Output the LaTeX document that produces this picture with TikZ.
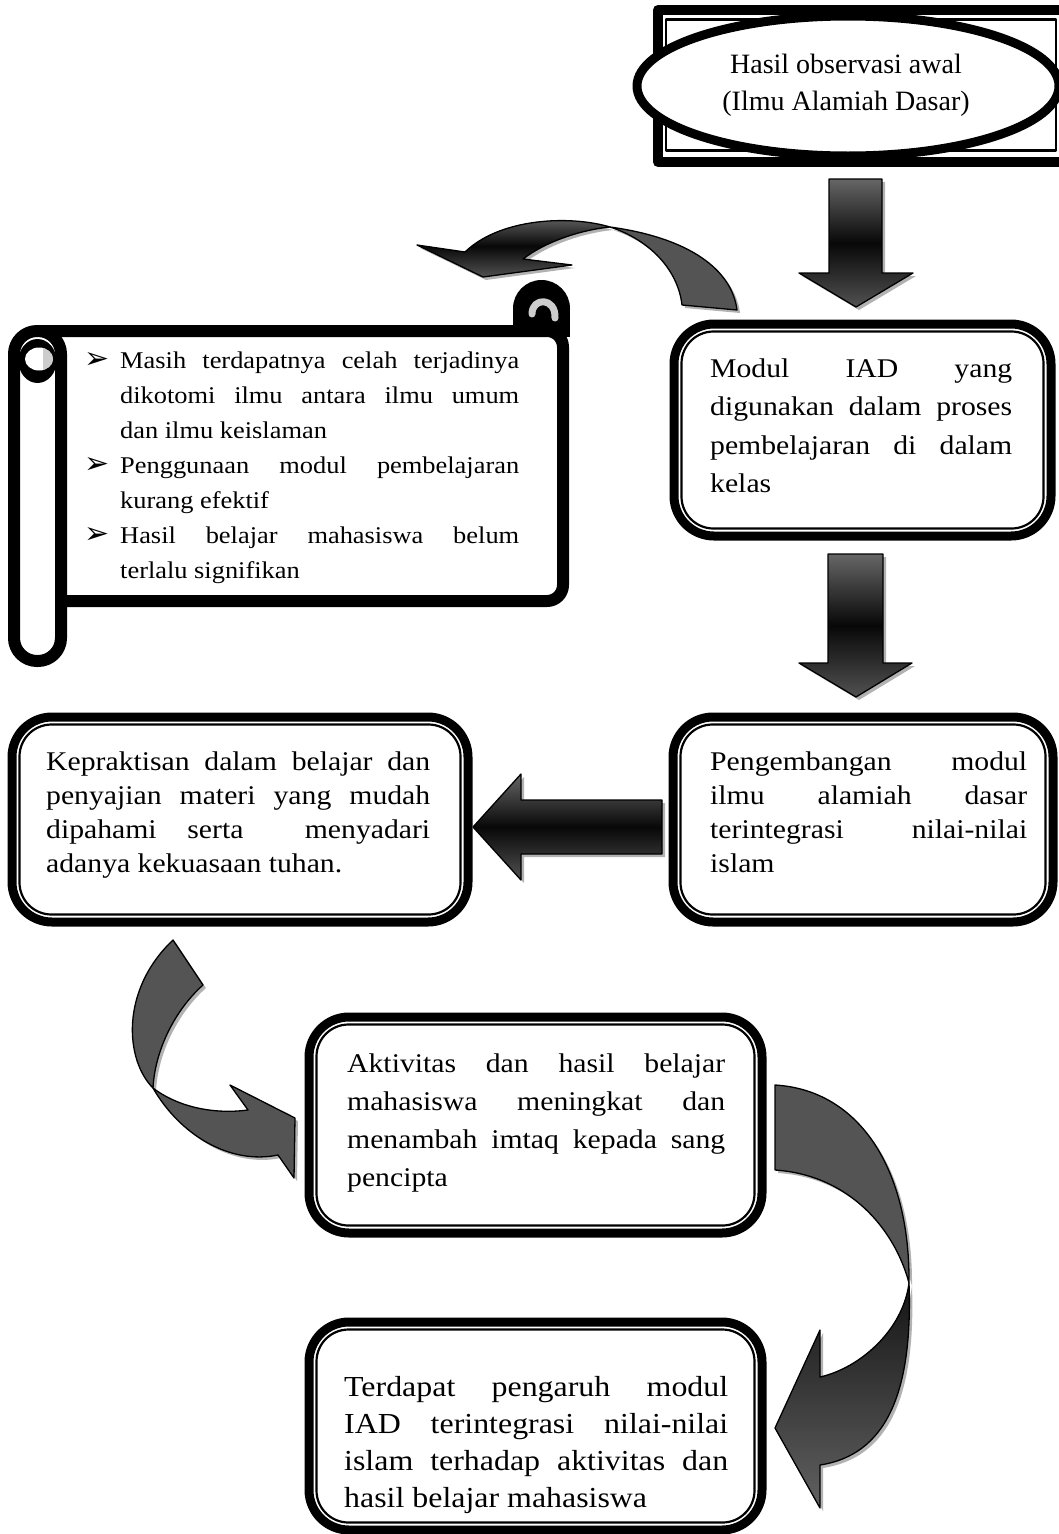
\documentclass[tikz,border=0pt]{standalone}
\usepackage{fontspec}
\setmainfont{Liberation Serif}
\newfontfamily\boxfont{Liberation Serif}[FakeStretch=1.1]
\newfontfamily\symfont{DejaVu Sans}
\usetikzlibrary{shadows}

% text block: width, line spacing, rows
\newcommand\tb[3]{\vtop{\hsize=#1pt\baselineskip=#2pt\relax\parindent=0pt #3}}
\newcommand\jr[1]{\hbox to\hsize{#1}}
\newcommand\lr[1]{\hbox to\hsize{#1\hfil}}
\newcommand\ctr[1]{\hbox to\hsize{\hfil#1\hfil}}

\tikzset{
  frameout/.style={line width=9pt, rounded corners=40pt, fill=white},
  framein/.style={line width=2.2pt, rounded corners=32pt},
  blk/.style={draw=black, line width=1.3pt,
    drop shadow={shadow xshift=3pt, shadow yshift=-3pt, fill=black!30, opacity=1}},
  bandflat/.style={blk, fill=black!67},
  bandshade/.style={blk, top color=black!60, bottom color=black!68, middle color=black!97},
  bandfade/.style={blk, top color=black!92, bottom color=black!62},
  txt/.style={inner sep=0pt, anchor=base west, font=\boxfont\fontsize{27}{38}\selectfont},
  bullet/.style={inner sep=0pt, anchor=base west, font=\symfont\fontsize{30}{30}\selectfont},
}

\begin{document}
\begin{tikzpicture}[x=1pt, y=-1pt, line join=round]
\useasboundingbox (0,0) rectangle (1059,1534);

% ---------- start: observation frame with ellipse ----------
\draw[line width=10pt] (658,10) rectangle (1064,162);
\draw[line width=2.5pt] (666,19.5) rectangle (1056,150.5);
\draw[line width=9pt, fill=white] (848,86) ellipse [x radius=211, y radius=70];
\node[inner sep=0pt, anchor=base, font=\fontsize{28}{37}\selectfont] (t1) at (846,73)
  {\tb{300}{37}{\ctr{Hasil observasi awal}\ctr{(Ilmu Alamiah Dasar)}}};

% ---------- double-framed boxes ----------
\draw[frameout] (674,324) rectangle (1051,536);
\draw[framein] (681.5,331.5) rectangle (1043.5,528.5);
\draw[frameout] (673,717) rectangle (1053,922);
\draw[framein] (680.5,724.5) rectangle (1045.5,914.5);
\draw[frameout] (12,717) rectangle (468,922);
\draw[framein] (19.5,724.5) rectangle (460.5,914.5);
\draw[frameout] (309,1017) rectangle (762,1233);
\draw[framein] (316.5,1024.5) rectangle (754.5,1225.5);
\draw[frameout] (309,1322) rectangle (762,1530);
\draw[framein] (316.5,1329.5) rectangle (754.5,1522.5);

\node[txt] (t2) at (710,377) {\tb{302}{38.5}{%
  \jr{Modul IAD yang}\jr{digunakan dalam proses}\jr{pembelajaran di dalam}\lr{kelas}}};
\node[txt] (t3) at (710,770) {\tb{317}{34}{%
  \jr{Pengembangan modul}\jr{ilmu alamiah dasar}\jr{terintegrasi nilai-nilai}\lr{islam}}};
\node[txt] (t4) at (46,770) {\tb{384}{34}{%
  \jr{Kepraktisan dalam belajar dan}\jr{penyajian materi yang mudah}%
  \jr{dipahami serta~ menyadari}\lr{adanya kekuasaan tuhan.}}};
\node[txt] (t5) at (347,1072) {\tb{378}{38}{%
  \jr{Aktivitas dan hasil belajar}\jr{mahasiswa meningkat dan}%
  \jr{menambah imtaq kepada sang}\lr{pencipta}}};
\node[txt, font=\boxfont\fontsize{29}{37}\selectfont] (t6) at (344,1396) {\tb{384}{37}{%
  \jr{Terdapat pengaruh modul}\jr{IAD terintegrasi nilai-nilai}%
  \jr{islam terhadap aktivitas dan}\lr{hasil belajar mahasiswa}}};

% ---------- scroll ----------
\draw[line width=12pt, fill=white, rounded corners=16pt]
  (37,331) -- (563,331) -- (563,601) -- (37,601);
\fill (541.5,308.5) circle (28.5);
\fill (513,308.5) rectangle (570,337);
\draw[line width=7pt, gray!40, line cap=round]
  (532,314) .. controls (532,297) and (556,297) .. (555,318);
\draw[line width=12pt, fill=white, rounded corners=23pt] (14,331) rectangle (61,661);
\fill (37.5,361) ellipse [x radius=19, y radius=22];
\fill[white] (39,359) ellipse [x radius=14, y radius=11.5];
\begin{scope}
  \clip (39,359) ellipse [x radius=14, y radius=11.5];
  \fill[gray!40] (43,340) rectangle (60,380);
\end{scope}

\node[bullet] (b1) at (84,368) {➢};
\node[bullet] (b2) at (84,473) {➢};
\node[bullet] (b3) at (84,543) {➢};
\begin{scope}[every node/.style={inner sep=0pt, anchor=base west,
    font=\boxfont\fontsize{24}{35}\selectfont}]
  \node (s1) at (120,368) {\tb{399}{35}{%
    \jr{Masih terdapatnya celah terjadinya}\jr{dikotomi ilmu antara ilmu umum}\lr{dan ilmu keislaman}}};
  \node (s2) at (120,473) {\tb{399}{35}{%
    \jr{Penggunaan modul pembelajaran}\lr{kurang efektif}}};
  \node (s3) at (120,543) {\tb{399}{35}{%
    \jr{Hasil belajar mahasiswa belum}\lr{terlalu signifikan}}};
\end{scope}

% ---------- straight block arrows ----------
\path[bandshade] (829,179) -- (882,179) -- (882,273) -- (913,273) -- (856,307)
  -- (799,273) -- (829,273) -- cycle;
\path[bandshade] (828,554) -- (883,554) -- (883,663) -- (912,663) -- (856,697)
  -- (799,663) -- (828,663) -- cycle;
\path[bandshade] (662,800) -- (521,800) -- (521,774) -- (473,827) -- (521,880)
  -- (521,854) -- (662,854) -- cycle;

% ---------- curved arrows ----------
% from the module box back over to the scroll
\path[bandflat] (682,305) -- (737,310) .. controls (732,270) and (690,238) .. (610,227)
  .. controls (650,240) and (678,270) .. (682,305) -- cycle;
\path[bandshade] (610,227) .. controls (570,215) and (500,218) .. (465,252)
  -- (417,245) -- (483,277) -- (572,265) -- (523,259)
  .. controls (545,242) and (580,230) .. (610,227) -- cycle;

% from the left box down to the activity box
\path[bandflat] (173,940) -- (203,985) .. controls (175,1010) and (155,1050) .. (153,1088)
  .. controls (125,1060) and (120,990) .. (173,940) -- cycle;
\path[bandflat] (153,1088) .. controls (175,1105) and (210,1115) .. (248,1110)
  -- (230,1085) -- (295,1118) -- (294,1178) -- (278,1155)
  .. controls (230,1165) and (180,1135) .. (153,1088) -- cycle;

% from the activity box down to the final box
\path[bandflat] (775,1085) .. controls (860,1090) and (910,1170) .. (909,1283)
  .. controls (895,1230) and (850,1175) .. (775,1170) -- cycle;
\path[bandfade] (909,1283) .. controls (913,1395) and (885,1455) .. (820,1465)
  -- (820,1508) -- (775,1428) -- (820,1330) -- (820,1377)
  .. controls (860,1368) and (903,1330) .. (909,1283) -- cycle;
\end{tikzpicture}
\end{document}
